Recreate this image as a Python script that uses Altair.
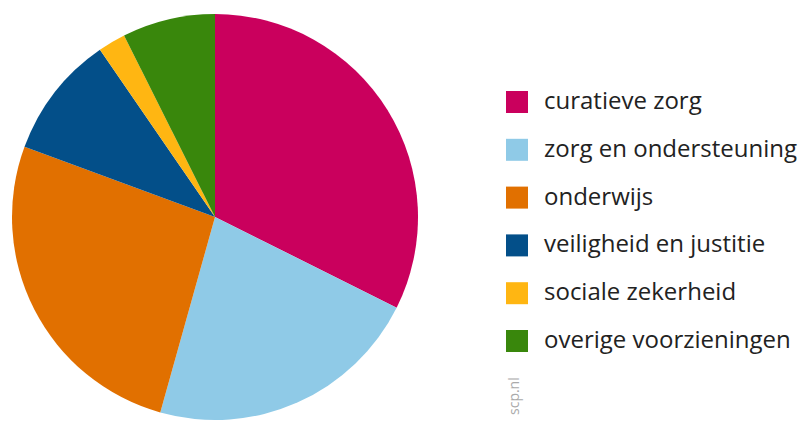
import altair as alt
import pandas as pd

categories = ["curatieve zorg", "zorg en ondersteuning", "onderwijs",
              "veiligheid en justitie", "sociale zekerheid", "overige voorzieningen"]
values = [32.4, 22.0, 26.3, 9.8, 2.2, 7.4]
colors = ["#CA005D", "#8FCAE7", "#E17000", "#034F89", "#FFB612", "#39870C"]

df = pd.DataFrame({"cat": categories, "val": values, "idx": list(range(len(categories)))})

pie = alt.Chart(df).mark_arc(outerRadius=203, stroke=None).encode(
    theta=alt.Theta("val:Q", stack=True),
    order=alt.Order("idx:Q"),
    color=alt.Color(
        "cat:N",
        sort=categories,
        scale=alt.Scale(domain=categories, range=colors),
        legend=alt.Legend(
            title=None, orient="none", legendX=497, legendY=82,
            symbolType="square", symbolSize=484, symbolStrokeWidth=0,
            labelFont="Open Sans", labelFontSize=24, labelColor="#222222",
            rowPadding=23.8, labelOffset=15, labelLimit=254,
        ),
    ),
)

wm = alt.Chart(pd.DataFrame({"t": ["scp.nl"]})).mark_text(
    angle=270, align="left", baseline="alphabetic", font="Open Sans",
    fontSize=14, color="#AAAAAA"
).encode(text="t:N", x=alt.value(511), y=alt.value(407))

chart = alt.layer(pie, wm).properties(width=414, height=418, padding=0).configure_view(stroke=None)

chart.save("out.html", embed_options={"renderer": "svg", "actions": False})
